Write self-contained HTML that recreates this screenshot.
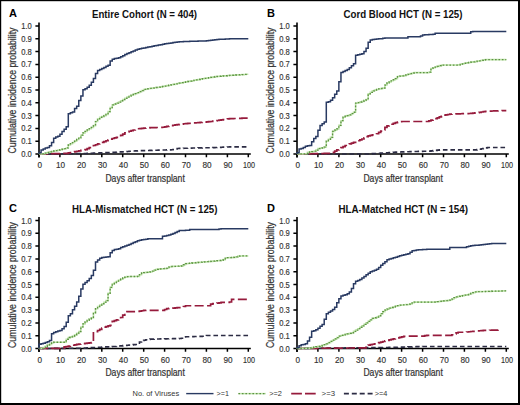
<!DOCTYPE html>
<html><head><meta charset="utf-8"><style>
html,body{margin:0;padding:0;background:#fff;}
svg{display:block;}
text{font-family:"Liberation Sans",sans-serif;}
.t{stroke:#333;stroke-width:0.15px;}
.lab{stroke:#333;stroke-width:0.22px;}
</style></head><body>
<svg width="520" height="405" viewBox="0 0 520 405">
<rect x="0" y="0" width="520" height="405" fill="#fff"/>

<path d="M0.5 0.5H519V404H0.5Z" fill="none" stroke="#000" stroke-width="1"/>
<rect x="518" y="0" width="2" height="405" fill="#000"/><rect x="0" y="403" width="520" height="2" fill="#000"/>
<rect x="0" y="0" width="520" height="1.2" fill="#000"/><rect x="0" y="0" width="1.2" height="405" fill="#000"/>
<g><text x="9.0" y="17.0" font-size="11" font-weight="bold" fill="#000">A</text>
<text x="92.0" y="17.8" font-size="10.8" font-weight="bold" fill="#111" textLength="105.0" lengthAdjust="spacingAndGlyphs">Entire Cohort (N = 404)</text>
<text class="lab" x="0" y="0" font-size="10" fill="#333" text-anchor="middle" textLength="126" lengthAdjust="spacingAndGlyphs" transform="translate(15.9 90.5) rotate(-90)">Cumulative incidence probability</text>
<path d="M39.0 22.5 V157.5 M39.0 154.0 H250.8" stroke="#000" stroke-width="1.6" fill="none"/>
<text class="t" x="31.8" y="157.0" font-size="8.4" fill="#333" text-anchor="end" textLength="10.6" lengthAdjust="spacingAndGlyphs">0.0</text>
<text class="t" x="31.8" y="144.2" font-size="8.4" fill="#333" text-anchor="end" textLength="10.6" lengthAdjust="spacingAndGlyphs">0.1</text>
<text class="t" x="31.8" y="131.4" font-size="8.4" fill="#333" text-anchor="end" textLength="10.6" lengthAdjust="spacingAndGlyphs">0.2</text>
<text class="t" x="31.8" y="118.6" font-size="8.4" fill="#333" text-anchor="end" textLength="10.6" lengthAdjust="spacingAndGlyphs">0.3</text>
<text class="t" x="31.8" y="105.8" font-size="8.4" fill="#333" text-anchor="end" textLength="10.6" lengthAdjust="spacingAndGlyphs">0.4</text>
<text class="t" x="31.8" y="93.0" font-size="8.4" fill="#333" text-anchor="end" textLength="10.6" lengthAdjust="spacingAndGlyphs">0.5</text>
<text class="t" x="31.8" y="80.2" font-size="8.4" fill="#333" text-anchor="end" textLength="10.6" lengthAdjust="spacingAndGlyphs">0.6</text>
<text class="t" x="31.8" y="67.4" font-size="8.4" fill="#333" text-anchor="end" textLength="10.6" lengthAdjust="spacingAndGlyphs">0.7</text>
<text class="t" x="31.8" y="54.6" font-size="8.4" fill="#333" text-anchor="end" textLength="10.6" lengthAdjust="spacingAndGlyphs">0.8</text>
<text class="t" x="31.8" y="41.8" font-size="8.4" fill="#333" text-anchor="end" textLength="10.6" lengthAdjust="spacingAndGlyphs">0.9</text>
<text class="t" x="31.8" y="29.0" font-size="8.4" fill="#333" text-anchor="end" textLength="10.6" lengthAdjust="spacingAndGlyphs">1.0</text>
<text class="t" x="39.7" y="168.1" font-size="8.2" fill="#333" text-anchor="middle">0</text>
<text class="t" x="60.6" y="168.1" font-size="8.2" fill="#333" text-anchor="middle">10</text>
<text class="t" x="81.6" y="168.1" font-size="8.2" fill="#333" text-anchor="middle">20</text>
<text class="t" x="102.5" y="168.1" font-size="8.2" fill="#333" text-anchor="middle">30</text>
<text class="t" x="123.4" y="168.1" font-size="8.2" fill="#333" text-anchor="middle">40</text>
<text class="t" x="144.3" y="168.1" font-size="8.2" fill="#333" text-anchor="middle">50</text>
<text class="t" x="165.3" y="168.1" font-size="8.2" fill="#333" text-anchor="middle">60</text>
<text class="t" x="186.2" y="168.1" font-size="8.2" fill="#333" text-anchor="middle">70</text>
<text class="t" x="207.1" y="168.1" font-size="8.2" fill="#333" text-anchor="middle">80</text>
<text class="t" x="228.1" y="168.1" font-size="8.2" fill="#333" text-anchor="middle">90</text>
<text class="t" x="249.0" y="168.1" font-size="8.2" fill="#333" text-anchor="middle" textLength="12.0" lengthAdjust="spacingAndGlyphs">100</text>
<path d="M35.4 154.0H39.0 M35.4 141.2H39.0 M35.4 128.4H39.0 M35.4 115.6H39.0 M35.4 102.8H39.0 M35.4 90.0H39.0 M35.4 77.2H39.0 M35.4 64.4H39.0 M35.4 51.6H39.0 M35.4 38.8H39.0 M35.4 26.0H39.0 M39.0 154.0V157.3 M59.9 154.0V157.3 M80.9 154.0V157.3 M101.8 154.0V157.3 M122.7 154.0V157.3 M143.7 154.0V157.3 M164.6 154.0V157.3 M185.5 154.0V157.3 M206.4 154.0V157.3 M227.4 154.0V157.3 M248.3 154.0V157.3" stroke="#000" stroke-width="1.5" fill="none"/>
<text class="lab" x="105.4" y="181.5" font-size="10" fill="#333" textLength="79.4" lengthAdjust="spacingAndGlyphs">Days after transplant</text>
<path d="M39.00 154.00 V153.99 H41.09 V153.97 H43.19 V153.95 H45.28 V153.94 H47.37 V153.92 H49.47 V153.90 H51.56 V153.88 H53.65 V153.86 H55.74 V153.84 H57.84 V153.83 H59.93 V153.81 H62.02 V153.79 H64.12 V153.77 H66.21 V153.75 H68.30 V153.73 H70.39 V153.72 H72.49 V153.70 H74.58 V153.68 H76.67 V153.66 H78.77 V153.64 H80.86 V153.63 H82.95 V153.57 H85.05 V153.49 H87.14 V153.41 H89.23 V153.33 H91.33 V153.25 H93.42 V153.16 H95.51 V153.08 H97.60 V153.00 H99.70 V152.92 H101.79 V152.83 H103.88 V152.75 H105.98 V152.67 H108.07 V152.59 H110.16 V152.51 H112.25 V152.40 H114.35 V152.26 H116.44 V152.13 H118.53 V151.99 H120.63 V151.86 H122.72 V151.73 H124.81 V151.59 H126.91 V151.46 H129.00 V151.32 H131.09 V151.19 H133.19 V151.05 H135.28 V150.92 H137.37 V150.79 H139.46 V150.73 H141.56 V150.67 H143.65 V150.61 H145.74 V150.55 H147.84 V150.48 H149.93 V150.42 H152.02 V150.36 H154.12 V150.30 H156.21 V150.24 H158.30 V150.17 H160.39 V150.11 H162.49 V150.05 H164.58 V149.99 H166.67 V149.92 H168.77 V149.86 H170.86 V149.80 H172.95 V149.43 H175.04 V148.85 H177.14 V148.47 H179.23 V148.41 H181.32 V148.36 H183.42 V148.30 H185.51 V148.24 H187.60 V148.18 H189.70 V148.12 H191.79 V148.07 H193.88 V148.01 H195.97 V147.96 H198.07 V147.91 H200.16 V147.86 H202.25 V147.82 H204.35 V147.77 H206.44 V147.72 H208.53 V147.68 H210.63 V147.63 H212.72 V147.58 H214.81 V147.54 H216.91 V147.49 H219.00 V147.40 H221.09 V147.29 H223.18 V147.17 H225.28 V147.05 H227.37 V146.94 H229.46 V146.83 H231.56 H233.65 H235.74 H237.84 H239.93 H242.02 H244.11 H246.21 H248.30" stroke="#2c2c44" stroke-width="1.6" fill="none" stroke-dasharray="4.6 2.9"/>
<path d="M39.00 154.00 V153.98 H41.09 V153.93 H43.19 V153.88 H45.28 V153.83 H47.37 V153.79 H49.47 V153.74 H51.56 V153.69 H53.65 V153.64 H55.74 V153.59 H57.84 V153.55 H59.93 V153.50 H62.02 V153.45 H64.12 V153.40 H66.21 V153.32 H68.30 V152.91 H70.39 V152.50 H72.49 V152.09 H74.58 V151.69 H76.67 V151.27 H78.77 V150.86 H80.86 V150.44 H82.95 V150.02 H85.05 V149.60 H87.14 V148.67 H89.23 V147.60 H91.33 V146.53 H93.42 V145.52 H95.51 V144.75 H97.60 V143.97 H99.70 V143.19 H101.79 V142.39 H103.88 V141.57 H105.98 V140.75 H108.07 V139.93 H110.16 V139.11 H112.25 V138.51 H114.35 V137.94 H116.44 V137.37 H118.53 V136.59 H120.63 V135.31 H122.72 V134.03 H124.81 V132.75 H126.91 V131.86 H129.00 V131.23 H131.09 V130.61 H133.19 V129.98 H135.28 V129.35 H137.37 V128.77 H139.46 V128.58 H141.56 V128.39 H143.65 V128.21 H145.74 V128.02 H147.84 V127.83 H149.93 V127.71 H152.02 V127.64 H154.12 V127.56 H156.21 V127.48 H158.30 V127.40 H160.39 V127.33 H162.49 V127.25 H164.58 V126.84 H166.67 V126.43 H168.77 V126.03 H170.86 V125.62 H172.95 V125.27 H175.04 V124.97 H177.14 V124.67 H179.23 V124.37 H181.32 V124.06 H183.42 V123.77 H185.51 V123.60 H187.60 V123.43 H189.70 V123.25 H191.79 V123.08 H193.88 V122.90 H195.97 V122.73 H198.07 V122.55 H200.16 V122.38 H202.25 V122.20 H204.35 V122.03 H206.44 V121.85 H208.53 V121.68 H210.63 V121.51 H212.72 V121.17 H214.81 V120.82 H216.91 V120.48 H219.00 V120.15 H221.09 V119.85 H223.18 V119.55 H225.28 V119.25 H227.37 V118.94 H229.46 V118.66 H231.56 V118.59 H233.65 V118.52 H235.74 V118.44 H237.84 V118.37 H239.93 V118.29 H242.02 V118.22 H244.11 V118.14 H246.21 V118.07 H248.30" stroke="#961b3c" stroke-width="1.7" fill="none" stroke-dasharray="9 3.4"/>
<path d="M39.00 154.00 V153.95 H41.09 V153.85 H43.19 V153.74 H45.28 V153.10 H47.37 V152.46 H49.47 V151.87 H51.56 V151.44 H53.65 V151.01 H55.74 V150.59 H57.84 V150.16 H59.93 V149.68 H62.02 V149.19 H64.12 V148.69 H66.21 V147.94 H68.30 V144.91 H70.39 V143.73 H72.49 V142.55 H74.58 V141.17 H76.67 V139.50 H78.77 V137.75 H80.86 V135.22 H82.95 V132.91 H85.05 V131.46 H87.14 V130.02 H89.23 V128.68 H91.33 V127.46 H93.42 V125.66 H95.51 V121.54 H97.60 V118.91 H99.70 V117.35 H101.79 V116.50 H103.88 V115.64 H105.98 V114.41 H108.07 V111.67 H110.16 V107.58 H112.25 V104.90 H114.35 V103.98 H116.44 V103.06 H118.53 V102.04 H120.63 V100.79 H122.72 V99.54 H124.81 V98.28 H126.91 V97.03 H129.00 V96.07 H131.09 V95.24 H133.19 V94.40 H135.28 V93.57 H137.37 V92.71 H139.46 V91.62 H141.56 V90.54 H143.65 V89.45 H145.74 V88.99 H147.84 V88.69 H149.93 V88.39 H152.02 V88.09 H154.12 V87.80 H156.21 V87.50 H158.30 V87.20 H160.39 V86.89 H162.49 V86.47 H164.58 V86.05 H166.67 V85.63 H168.77 V85.21 H170.86 V84.79 H172.95 V84.37 H175.04 V83.95 H177.14 V83.53 H179.23 V83.12 H181.32 V82.70 H183.42 V82.28 H185.51 V81.88 H187.60 V81.48 H189.70 V81.08 H191.79 V80.68 H193.88 V80.28 H195.97 V79.88 H198.07 V79.48 H200.16 V79.08 H202.25 V78.70 H204.35 V78.36 H206.44 V78.02 H208.53 V77.68 H210.63 V77.34 H212.72 V77.00 H214.81 V76.66 H216.91 V76.44 H219.00 V76.26 H221.09 V76.09 H223.18 V75.91 H225.28 V75.74 H227.37 V75.57 H229.46 V75.39 H231.56 V75.26 H233.65 V75.13 H235.74 V74.99 H237.84 V74.86 H239.93 V74.72 H242.02 V74.59 H244.11 V74.46 H246.21 V74.32 H248.30" stroke="#bfe3ab" stroke-width="1.6" fill="none"/>
<path d="M39.00 154.00 V153.95 H41.09 V153.85 H43.19 V153.74 H45.28 V153.10 H47.37 V152.46 H49.47 V151.87 H51.56 V151.44 H53.65 V151.01 H55.74 V150.59 H57.84 V150.16 H59.93 V149.68 H62.02 V149.19 H64.12 V148.69 H66.21 V147.94 H68.30 V144.91 H70.39 V143.73 H72.49 V142.55 H74.58 V141.17 H76.67 V139.50 H78.77 V137.75 H80.86 V135.22 H82.95 V132.91 H85.05 V131.46 H87.14 V130.02 H89.23 V128.68 H91.33 V127.46 H93.42 V125.66 H95.51 V121.54 H97.60 V118.91 H99.70 V117.35 H101.79 V116.50 H103.88 V115.64 H105.98 V114.41 H108.07 V111.67 H110.16 V107.58 H112.25 V104.90 H114.35 V103.98 H116.44 V103.06 H118.53 V102.04 H120.63 V100.79 H122.72 V99.54 H124.81 V98.28 H126.91 V97.03 H129.00 V96.07 H131.09 V95.24 H133.19 V94.40 H135.28 V93.57 H137.37 V92.71 H139.46 V91.62 H141.56 V90.54 H143.65 V89.45 H145.74 V88.99 H147.84 V88.69 H149.93 V88.39 H152.02 V88.09 H154.12 V87.80 H156.21 V87.50 H158.30 V87.20 H160.39 V86.89 H162.49 V86.47 H164.58 V86.05 H166.67 V85.63 H168.77 V85.21 H170.86 V84.79 H172.95 V84.37 H175.04 V83.95 H177.14 V83.53 H179.23 V83.12 H181.32 V82.70 H183.42 V82.28 H185.51 V81.88 H187.60 V81.48 H189.70 V81.08 H191.79 V80.68 H193.88 V80.28 H195.97 V79.88 H198.07 V79.48 H200.16 V79.08 H202.25 V78.70 H204.35 V78.36 H206.44 V78.02 H208.53 V77.68 H210.63 V77.34 H212.72 V77.00 H214.81 V76.66 H216.91 V76.44 H219.00 V76.26 H221.09 V76.09 H223.18 V75.91 H225.28 V75.74 H227.37 V75.57 H229.46 V75.39 H231.56 V75.26 H233.65 V75.13 H235.74 V74.99 H237.84 V74.86 H239.93 V74.72 H242.02 V74.59 H244.11 V74.46 H246.21 V74.32 H248.30" stroke="#5c9242" stroke-width="1.3" fill="none" stroke-dasharray="1.6 1.8"/>
<path d="M39.00 154.00 V152.72 H41.09 V150.04 H43.19 V148.91 H45.28 V148.00 H47.37 V147.40 H49.47 V145.81 H51.56 V142.39 H53.65 V138.14 H55.74 V136.96 H57.84 V136.16 H59.93 V134.16 H62.02 V131.60 H64.12 V129.31 H66.21 V126.77 H68.30 V113.70 H70.39 V112.86 H72.49 V112.09 H74.58 V108.38 H76.67 V106.13 H78.77 V100.44 H80.86 V96.08 H82.95 V89.77 H85.05 V88.63 H87.14 V87.16 H89.23 V85.16 H91.33 V82.34 H93.42 V78.55 H95.51 V73.53 H97.60 V70.62 H99.70 V69.52 H101.79 V68.42 H103.88 V67.38 H105.98 V66.37 H108.07 V65.37 H110.16 V60.96 H112.25 V59.20 H114.35 V58.42 H116.44 V58.25 H118.53 V57.81 H120.63 V56.73 H122.72 V55.66 H124.81 V54.59 H126.91 V53.62 H129.00 V52.71 H131.09 V51.80 H133.19 V50.89 H135.28 V49.98 H137.37 V49.13 H139.46 V48.72 H141.56 V48.31 H143.65 V47.91 H145.74 V47.50 H147.84 V47.09 H149.93 V46.68 H152.02 V46.28 H154.12 V45.87 H156.21 V45.46 H158.30 V45.05 H160.39 V44.65 H162.49 V44.24 H164.58 V43.83 H166.67 V43.51 H168.77 V43.19 H170.86 V42.88 H172.95 V42.56 H175.04 V42.25 H177.14 V41.93 H179.23 V41.80 H181.32 V41.71 H183.42 V41.62 H185.51 V41.53 H187.60 V41.44 H189.70 V41.35 H191.79 V41.26 H193.88 V41.19 H195.97 V41.13 H198.07 V41.07 H200.16 V41.02 H202.25 V40.96 H204.35 V40.90 H206.44 V40.82 H208.53 V40.57 H210.63 V40.31 H212.72 V40.05 H214.81 V39.80 H216.91 V39.54 H219.00 V39.37 H221.09 V39.25 H223.18 V39.14 H225.28 V39.02 H227.37 V38.90 H229.46 V38.80 H231.56 H233.65 H235.74 H237.84 H239.93 H242.02 H244.11 H246.21 H248.30" stroke="#293a62" stroke-width="1.5" fill="none" stroke-linejoin="miter"/></g>
<g><text x="267.0" y="17.0" font-size="11" font-weight="bold" fill="#000">B</text>
<text x="343.5" y="17.8" font-size="10.8" font-weight="bold" fill="#111" textLength="119.0" lengthAdjust="spacingAndGlyphs">Cord Blood HCT (N = 125)</text>
<text class="lab" x="0" y="0" font-size="10" fill="#333" text-anchor="middle" textLength="126" lengthAdjust="spacingAndGlyphs" transform="translate(273.9 90.5) rotate(-90)">Cumulative incidence probability</text>
<path d="M297.0 22.5 V157.5 M297.0 154.0 H508.8" stroke="#000" stroke-width="1.6" fill="none"/>
<text class="t" x="289.8" y="157.0" font-size="8.4" fill="#333" text-anchor="end" textLength="10.6" lengthAdjust="spacingAndGlyphs">0.0</text>
<text class="t" x="289.8" y="144.2" font-size="8.4" fill="#333" text-anchor="end" textLength="10.6" lengthAdjust="spacingAndGlyphs">0.1</text>
<text class="t" x="289.8" y="131.4" font-size="8.4" fill="#333" text-anchor="end" textLength="10.6" lengthAdjust="spacingAndGlyphs">0.2</text>
<text class="t" x="289.8" y="118.6" font-size="8.4" fill="#333" text-anchor="end" textLength="10.6" lengthAdjust="spacingAndGlyphs">0.3</text>
<text class="t" x="289.8" y="105.8" font-size="8.4" fill="#333" text-anchor="end" textLength="10.6" lengthAdjust="spacingAndGlyphs">0.4</text>
<text class="t" x="289.8" y="93.0" font-size="8.4" fill="#333" text-anchor="end" textLength="10.6" lengthAdjust="spacingAndGlyphs">0.5</text>
<text class="t" x="289.8" y="80.2" font-size="8.4" fill="#333" text-anchor="end" textLength="10.6" lengthAdjust="spacingAndGlyphs">0.6</text>
<text class="t" x="289.8" y="67.4" font-size="8.4" fill="#333" text-anchor="end" textLength="10.6" lengthAdjust="spacingAndGlyphs">0.7</text>
<text class="t" x="289.8" y="54.6" font-size="8.4" fill="#333" text-anchor="end" textLength="10.6" lengthAdjust="spacingAndGlyphs">0.8</text>
<text class="t" x="289.8" y="41.8" font-size="8.4" fill="#333" text-anchor="end" textLength="10.6" lengthAdjust="spacingAndGlyphs">0.9</text>
<text class="t" x="289.8" y="29.0" font-size="8.4" fill="#333" text-anchor="end" textLength="10.6" lengthAdjust="spacingAndGlyphs">1.0</text>
<text class="t" x="297.7" y="168.1" font-size="8.2" fill="#333" text-anchor="middle">0</text>
<text class="t" x="318.6" y="168.1" font-size="8.2" fill="#333" text-anchor="middle">10</text>
<text class="t" x="339.6" y="168.1" font-size="8.2" fill="#333" text-anchor="middle">20</text>
<text class="t" x="360.5" y="168.1" font-size="8.2" fill="#333" text-anchor="middle">30</text>
<text class="t" x="381.4" y="168.1" font-size="8.2" fill="#333" text-anchor="middle">40</text>
<text class="t" x="402.3" y="168.1" font-size="8.2" fill="#333" text-anchor="middle">50</text>
<text class="t" x="423.3" y="168.1" font-size="8.2" fill="#333" text-anchor="middle">60</text>
<text class="t" x="444.2" y="168.1" font-size="8.2" fill="#333" text-anchor="middle">70</text>
<text class="t" x="465.1" y="168.1" font-size="8.2" fill="#333" text-anchor="middle">80</text>
<text class="t" x="486.1" y="168.1" font-size="8.2" fill="#333" text-anchor="middle">90</text>
<text class="t" x="507.0" y="168.1" font-size="8.2" fill="#333" text-anchor="middle" textLength="12.0" lengthAdjust="spacingAndGlyphs">100</text>
<path d="M293.4 154.0H297.0 M293.4 141.2H297.0 M293.4 128.4H297.0 M293.4 115.6H297.0 M293.4 102.8H297.0 M293.4 90.0H297.0 M293.4 77.2H297.0 M293.4 64.4H297.0 M293.4 51.6H297.0 M293.4 38.8H297.0 M293.4 26.0H297.0 M297.0 154.0V157.3 M317.9 154.0V157.3 M338.9 154.0V157.3 M359.8 154.0V157.3 M380.7 154.0V157.3 M401.6 154.0V157.3 M422.6 154.0V157.3 M443.5 154.0V157.3 M464.4 154.0V157.3 M485.4 154.0V157.3 M506.3 154.0V157.3" stroke="#000" stroke-width="1.5" fill="none"/>
<text class="lab" x="363.4" y="181.5" font-size="10" fill="#333" textLength="79.4" lengthAdjust="spacingAndGlyphs">Days after transplant</text>
<path d="M297.00 154.00 V154.00 H299.09 H301.19 H303.28 H305.37 H307.46 H309.56 H311.65 H313.74 H315.84 H317.93 H320.02 H322.12 H324.21 H326.30 H328.39 H330.49 H332.58 H334.67 H336.77 H338.86 H340.95 H343.05 H345.14 H347.23 H349.32 H351.42 H353.51 H355.60 H357.70 H359.79 H361.88 H363.98 H366.07 H368.16 H370.25 H372.35 V153.67 H374.44 V153.54 H376.53 V153.40 H378.63 V153.26 H380.72 V153.12 H382.81 V152.98 H384.91 V152.84 H387.00 V152.70 H389.09 V152.57 H391.19 V152.43 H393.28 V152.29 H395.37 V152.15 H397.46 V152.05 H399.56 V151.98 H401.65 V151.92 H403.74 V151.85 H405.84 V151.79 H407.93 V151.73 H410.02 V151.66 H412.12 V151.60 H414.21 V151.53 H416.30 V151.47 H418.39 V151.40 H420.49 V151.34 H422.58 V151.27 H424.67 V151.21 H426.77 V151.15 H428.86 V151.08 H430.95 V150.90 H433.04 V150.63 H435.14 V150.36 H437.23 V150.09 H439.32 V149.90 H441.42 H443.51 H445.60 H447.70 H449.79 H451.88 H453.98 H456.07 H458.16 H460.25 H462.35 H464.44 H466.53 H468.63 H470.72 H472.81 H474.90 H477.00 V149.64 H479.09 V149.20 H481.18 V148.75 H483.28 V148.31 H485.37 V147.87 H487.46 V147.47 H489.56 H491.65 H493.74 H495.84 H497.93 H500.02 H502.11 H504.21 H506.30" stroke="#2c2c44" stroke-width="1.6" fill="none" stroke-dasharray="4.6 2.9"/>
<path d="M297.00 154.00 V153.98 H299.09 V153.94 H301.19 V153.90 H303.28 V153.86 H305.37 V153.82 H307.46 V153.78 H309.56 V153.74 H311.65 V153.70 H313.74 V153.66 H315.84 V153.62 H317.93 V153.59 H320.02 V153.55 H322.12 V153.51 H324.21 V153.47 H326.30 V153.43 H328.39 V153.39 H330.49 V153.21 H332.58 V152.45 H334.67 V151.12 H336.77 V149.79 H338.86 V148.68 H340.95 V147.63 H343.05 V146.57 H345.14 V145.52 H347.23 V144.56 H349.32 V143.82 H351.42 V143.08 H353.51 V142.34 H355.60 V141.60 H357.70 V140.75 H359.79 V139.87 H361.88 V138.99 H363.98 V137.87 H366.07 V136.59 H368.16 V135.80 H370.25 V135.34 H372.35 V134.87 H374.44 V134.40 H376.53 V133.75 H378.63 V132.33 H380.72 V131.03 H382.81 V130.00 H384.91 V127.29 H387.00 V125.90 H389.09 V125.06 H391.19 V124.23 H393.28 V123.39 H395.37 V122.59 H397.46 V122.06 H399.56 V121.54 H401.65 V121.49 H403.74 H405.84 H407.93 H410.02 H412.12 H414.21 H416.30 H418.39 H420.49 H422.58 H424.67 H426.77 H428.86 V120.94 H430.95 V120.15 H433.04 V119.37 H435.14 V118.58 H437.23 V117.78 H439.32 V116.92 H441.42 V116.07 H443.51 V115.22 H445.60 V114.87 H447.70 V114.52 H449.79 V114.17 H451.88 V114.02 H453.98 V113.95 H456.07 V113.89 H458.16 V113.82 H460.25 V113.76 H462.35 V113.70 H464.44 V113.63 H466.53 V113.57 H468.63 V113.50 H470.72 V113.44 H472.81 V113.19 H474.90 V112.90 H477.00 V112.61 H479.09 V112.32 H481.18 V112.02 H483.28 V111.71 H485.37 V111.40 H487.46 V111.11 H489.56 V111.05 H491.65 V110.99 H493.74 V110.94 H495.84 V110.88 H497.93 V110.82 H500.02 V110.76 H502.11 V110.70 H504.21 V110.64 H506.30" stroke="#961b3c" stroke-width="1.7" fill="none" stroke-dasharray="9 3.4"/>
<path d="M297.00 154.00 V153.97 H299.09 V153.91 H301.19 V153.86 H303.28 V153.80 H305.37 V153.74 H307.46 V152.33 H309.56 V151.95 H311.65 V151.58 H313.74 V151.21 H315.84 V150.12 H317.93 V148.55 H320.02 V148.09 H322.12 V147.90 H324.21 V147.05 H326.30 V141.20 H328.39 V139.28 H330.49 V137.36 H332.58 V131.34 H334.67 V130.12 H336.77 V128.89 H338.86 V125.33 H340.95 V120.70 H343.05 V117.23 H345.14 V116.26 H347.23 V115.58 H349.32 V114.83 H351.42 V113.55 H353.51 V112.27 H355.60 V103.20 H357.70 V102.60 H359.79 V102.00 H361.88 V101.34 H363.98 V100.45 H366.07 V99.56 H368.16 V93.84 H370.25 V92.29 H372.35 V90.83 H374.44 V90.14 H376.53 V89.46 H378.63 V88.86 H380.72 V88.48 H382.81 V88.10 H384.91 V85.05 H387.00 V82.87 H389.09 V81.83 H391.19 V80.78 H393.28 V79.74 H395.37 V78.60 H397.46 V76.56 H399.56 V76.20 H401.65 V75.84 H403.74 V75.48 H405.84 V74.91 H407.93 V74.28 H410.02 V73.66 H412.12 V73.03 H414.21 V72.59 H416.30 H418.39 H420.49 H422.58 H424.67 H426.77 H428.86 V72.18 H430.95 V68.43 H433.04 V67.74 H435.14 V67.04 H437.23 V66.35 H439.32 V65.66 H441.42 V65.04 H443.51 H445.60 H447.70 H449.79 H451.88 H453.98 H456.07 H458.16 V64.83 H460.25 V64.31 H462.35 V63.78 H464.44 V63.26 H466.53 V62.74 H468.63 V62.45 H470.72 V62.15 H472.81 V61.86 H474.90 V61.57 H477.00 V61.21 H479.09 V60.80 H481.18 V60.40 H483.28 V59.99 H485.37 V59.66 H487.46 H489.56 H491.65 H493.74 H495.84 H497.93 H500.02 H502.11 H504.21 H506.30" stroke="#bfe3ab" stroke-width="1.6" fill="none"/>
<path d="M297.00 154.00 V153.97 H299.09 V153.91 H301.19 V153.86 H303.28 V153.80 H305.37 V153.74 H307.46 V152.33 H309.56 V151.95 H311.65 V151.58 H313.74 V151.21 H315.84 V150.12 H317.93 V148.55 H320.02 V148.09 H322.12 V147.90 H324.21 V147.05 H326.30 V141.20 H328.39 V139.28 H330.49 V137.36 H332.58 V131.34 H334.67 V130.12 H336.77 V128.89 H338.86 V125.33 H340.95 V120.70 H343.05 V117.23 H345.14 V116.26 H347.23 V115.58 H349.32 V114.83 H351.42 V113.55 H353.51 V112.27 H355.60 V103.20 H357.70 V102.60 H359.79 V102.00 H361.88 V101.34 H363.98 V100.45 H366.07 V99.56 H368.16 V93.84 H370.25 V92.29 H372.35 V90.83 H374.44 V90.14 H376.53 V89.46 H378.63 V88.86 H380.72 V88.48 H382.81 V88.10 H384.91 V85.05 H387.00 V82.87 H389.09 V81.83 H391.19 V80.78 H393.28 V79.74 H395.37 V78.60 H397.46 V76.56 H399.56 V76.20 H401.65 V75.84 H403.74 V75.48 H405.84 V74.91 H407.93 V74.28 H410.02 V73.66 H412.12 V73.03 H414.21 V72.59 H416.30 H418.39 H420.49 H422.58 H424.67 H426.77 H428.86 V72.18 H430.95 V68.43 H433.04 V67.74 H435.14 V67.04 H437.23 V66.35 H439.32 V65.66 H441.42 V65.04 H443.51 H445.60 H447.70 H449.79 H451.88 H453.98 H456.07 H458.16 V64.83 H460.25 V64.31 H462.35 V63.78 H464.44 V63.26 H466.53 V62.74 H468.63 V62.45 H470.72 V62.15 H472.81 V61.86 H474.90 V61.57 H477.00 V61.21 H479.09 V60.80 H481.18 V60.40 H483.28 V59.99 H485.37 V59.66 H487.46 H489.56 H491.65 H493.74 H495.84 H497.93 H500.02 H502.11 H504.21 H506.30" stroke="#5c9242" stroke-width="1.3" fill="none" stroke-dasharray="1.6 1.8"/>
<path d="M297.00 154.00 V152.67 H299.09 V148.91 H301.19 V148.39 H303.28 V147.40 H305.37 V146.28 H307.46 V145.87 H309.56 V145.46 H311.65 V141.74 H313.74 V138.52 H315.84 V136.45 H317.93 V130.32 H320.02 V125.42 H322.12 V123.79 H324.21 V121.92 H326.30 V102.15 H328.39 V101.63 H330.49 V100.35 H332.58 V97.82 H334.67 V94.34 H336.77 V90.97 H338.86 V81.81 H340.95 V72.55 H343.05 V71.55 H345.14 V70.52 H347.23 V69.44 H349.32 V67.80 H351.42 V65.77 H353.51 V63.67 H355.60 V55.34 H357.70 V54.77 H359.79 V54.26 H361.88 V53.79 H363.98 V51.46 H366.07 V48.22 H368.16 V42.13 H370.25 V39.98 H372.35 V39.51 H374.44 V39.14 H376.53 V39.00 H378.63 V38.87 H380.72 V38.73 H382.81 V38.21 H384.91 V37.90 H387.00 H389.09 H391.19 H393.28 H395.37 H397.46 H399.56 H401.65 H403.74 H405.84 H407.93 V36.75 H410.02 H412.12 H414.21 H416.30 H418.39 H420.49 V36.12 H422.58 V35.07 H424.67 V34.84 H426.77 V34.72 H428.86 V34.59 H430.95 V34.46 H433.04 V34.33 H435.14 V33.28 H437.23 V33.17 H439.32 H441.42 H443.51 H445.60 H447.70 H449.79 H451.88 H453.98 H456.07 H458.16 H460.25 H462.35 H464.44 H466.53 H468.63 H470.72 V31.81 H472.81 V31.50 H474.90 H477.00 H479.09 H481.18 H483.28 H485.37 H487.46 H489.56 H491.65 H493.74 H495.84 H497.93 H500.02 H502.11 H504.21 H506.30" stroke="#293a62" stroke-width="1.5" fill="none" stroke-linejoin="miter"/></g>
<g><text x="9.0" y="212.0" font-size="11" font-weight="bold" fill="#000">C</text>
<text x="72.0" y="212.8" font-size="10.8" font-weight="bold" fill="#111" textLength="145.5" lengthAdjust="spacingAndGlyphs">HLA-Mismatched HCT (N = 125)</text>
<text class="lab" x="0" y="0" font-size="10" fill="#333" text-anchor="middle" textLength="126" lengthAdjust="spacingAndGlyphs" transform="translate(15.9 285.0) rotate(-90)">Cumulative incidence probability</text>
<path d="M39.0 217.0 V352.0 M39.0 348.5 H250.8" stroke="#000" stroke-width="1.6" fill="none"/>
<text class="t" x="31.8" y="351.5" font-size="8.4" fill="#333" text-anchor="end" textLength="10.6" lengthAdjust="spacingAndGlyphs">0.0</text>
<text class="t" x="31.8" y="338.7" font-size="8.4" fill="#333" text-anchor="end" textLength="10.6" lengthAdjust="spacingAndGlyphs">0.1</text>
<text class="t" x="31.8" y="325.9" font-size="8.4" fill="#333" text-anchor="end" textLength="10.6" lengthAdjust="spacingAndGlyphs">0.2</text>
<text class="t" x="31.8" y="313.1" font-size="8.4" fill="#333" text-anchor="end" textLength="10.6" lengthAdjust="spacingAndGlyphs">0.3</text>
<text class="t" x="31.8" y="300.3" font-size="8.4" fill="#333" text-anchor="end" textLength="10.6" lengthAdjust="spacingAndGlyphs">0.4</text>
<text class="t" x="31.8" y="287.5" font-size="8.4" fill="#333" text-anchor="end" textLength="10.6" lengthAdjust="spacingAndGlyphs">0.5</text>
<text class="t" x="31.8" y="274.7" font-size="8.4" fill="#333" text-anchor="end" textLength="10.6" lengthAdjust="spacingAndGlyphs">0.6</text>
<text class="t" x="31.8" y="261.9" font-size="8.4" fill="#333" text-anchor="end" textLength="10.6" lengthAdjust="spacingAndGlyphs">0.7</text>
<text class="t" x="31.8" y="249.1" font-size="8.4" fill="#333" text-anchor="end" textLength="10.6" lengthAdjust="spacingAndGlyphs">0.8</text>
<text class="t" x="31.8" y="236.3" font-size="8.4" fill="#333" text-anchor="end" textLength="10.6" lengthAdjust="spacingAndGlyphs">0.9</text>
<text class="t" x="31.8" y="223.5" font-size="8.4" fill="#333" text-anchor="end" textLength="10.6" lengthAdjust="spacingAndGlyphs">1.0</text>
<text class="t" x="39.7" y="362.6" font-size="8.2" fill="#333" text-anchor="middle">0</text>
<text class="t" x="60.6" y="362.6" font-size="8.2" fill="#333" text-anchor="middle">10</text>
<text class="t" x="81.6" y="362.6" font-size="8.2" fill="#333" text-anchor="middle">20</text>
<text class="t" x="102.5" y="362.6" font-size="8.2" fill="#333" text-anchor="middle">30</text>
<text class="t" x="123.4" y="362.6" font-size="8.2" fill="#333" text-anchor="middle">40</text>
<text class="t" x="144.3" y="362.6" font-size="8.2" fill="#333" text-anchor="middle">50</text>
<text class="t" x="165.3" y="362.6" font-size="8.2" fill="#333" text-anchor="middle">60</text>
<text class="t" x="186.2" y="362.6" font-size="8.2" fill="#333" text-anchor="middle">70</text>
<text class="t" x="207.1" y="362.6" font-size="8.2" fill="#333" text-anchor="middle">80</text>
<text class="t" x="228.1" y="362.6" font-size="8.2" fill="#333" text-anchor="middle">90</text>
<text class="t" x="249.0" y="362.6" font-size="8.2" fill="#333" text-anchor="middle" textLength="12.0" lengthAdjust="spacingAndGlyphs">100</text>
<path d="M35.4 348.5H39.0 M35.4 335.7H39.0 M35.4 322.9H39.0 M35.4 310.1H39.0 M35.4 297.3H39.0 M35.4 284.5H39.0 M35.4 271.7H39.0 M35.4 258.9H39.0 M35.4 246.1H39.0 M35.4 233.3H39.0 M35.4 220.5H39.0 M39.0 348.5V351.8 M59.9 348.5V351.8 M80.9 348.5V351.8 M101.8 348.5V351.8 M122.7 348.5V351.8 M143.7 348.5V351.8 M164.6 348.5V351.8 M185.5 348.5V351.8 M206.4 348.5V351.8 M227.4 348.5V351.8 M248.3 348.5V351.8" stroke="#000" stroke-width="1.5" fill="none"/>
<text class="lab" x="105.4" y="376.0" font-size="10" fill="#333" textLength="79.4" lengthAdjust="spacingAndGlyphs">Days after transplant</text>
<path d="M39.00 348.50 V348.49 H41.09 V348.48 H43.19 V348.47 H45.28 V348.46 H47.37 V348.44 H49.47 V348.43 H51.56 V348.42 H53.65 V348.40 H55.74 V348.39 H57.84 V348.38 H59.93 V348.37 H62.02 V348.35 H64.12 V348.34 H66.21 V348.33 H68.30 V348.31 H70.39 V348.30 H72.49 V348.29 H74.58 V348.28 H76.67 V348.26 H78.77 V348.25 H80.86 V348.19 H82.95 V348.08 H85.05 V347.97 H87.14 V347.86 H89.23 V347.75 H91.33 V347.64 H93.42 V347.53 H95.51 V347.42 H97.60 V347.32 H99.70 V347.21 H101.79 V347.10 H103.88 V346.99 H105.98 V346.88 H108.07 V346.77 H110.16 V346.66 H112.25 V346.55 H114.35 V346.43 H116.44 V346.24 H118.53 V346.04 H120.63 V345.85 H122.72 V345.65 H124.81 V345.46 H126.91 V345.26 H129.00 V345.06 H131.09 V344.86 H133.19 V344.66 H135.28 V344.46 H137.37 V344.07 H139.46 V342.04 H141.56 V340.64 H143.65 V340.21 H145.74 V339.77 H147.84 V339.33 H149.93 V339.13 H152.02 V339.09 H154.12 V339.05 H156.21 V339.01 H158.30 V338.96 H160.39 V338.92 H162.49 V338.88 H164.58 V338.84 H166.67 V338.80 H168.77 V338.76 H170.86 V338.72 H172.95 V338.67 H175.04 V338.63 H177.14 V338.59 H179.23 V338.55 H181.32 V338.21 H183.42 V336.85 H185.51 V336.78 H187.60 V336.72 H189.70 V336.65 H191.79 V336.59 H193.88 V336.52 H195.97 V336.46 H198.07 V336.39 H200.16 V336.33 H202.25 V336.26 H204.35 V336.07 H206.44 V335.44 H208.53 H210.63 H212.72 H214.81 H216.91 H219.00 H221.09 H223.18 H225.28 H227.37 H229.46 H231.56 H233.65 H235.74 H237.84 H239.93 H242.02 H244.11 H246.21 H248.30" stroke="#2c2c44" stroke-width="1.6" fill="none" stroke-dasharray="4.6 2.9"/>
<path d="M39.00 348.50 V348.49 H41.09 V348.47 H43.19 V348.44 H45.28 V348.42 H47.37 V348.40 H49.47 V348.38 H51.56 V348.36 H53.65 V348.33 H55.74 V348.31 H57.84 V348.29 H59.93 V348.27 H62.02 V348.24 H64.12 V346.96 H66.21 V346.53 H68.30 V346.10 H70.39 V345.66 H72.49 V345.23 H74.58 V344.79 H76.67 V344.43 H78.77 V344.18 H80.86 V343.93 H82.95 V343.68 H85.05 V343.43 H87.14 V343.19 H89.23 V342.94 H91.33 V342.69 H93.42 V332.78 H95.51 V331.65 H97.60 V330.50 H99.70 V329.34 H101.79 V328.18 H103.88 V327.14 H105.98 V326.55 H108.07 V325.97 H110.16 V325.39 H112.25 V321.36 H114.35 V320.65 H116.44 V319.94 H118.53 V319.00 H120.63 V317.52 H122.72 V315.13 H124.81 V311.76 H126.91 V311.72 H129.00 V311.67 H131.09 V311.63 H133.19 V311.59 H135.28 V311.55 H137.37 V311.47 H139.46 V311.12 H141.56 V310.77 H143.65 V310.43 H145.74 V310.36 H147.84 H149.93 H152.02 H154.12 H156.21 H158.30 H160.39 H162.49 H164.58 V309.51 H166.67 V308.67 H168.77 V308.37 H170.86 V308.20 H172.95 V308.04 H175.04 V307.87 H177.14 V307.71 H179.23 V307.54 H181.32 V307.26 H183.42 V306.50 H185.51 V305.75 H187.60 H189.70 H191.79 H193.88 H195.97 H198.07 H200.16 H202.25 H204.35 H206.44 H208.53 H210.63 V304.12 H212.72 V303.68 H214.81 V303.38 H216.91 V303.08 H219.00 V302.78 H221.09 V302.47 H223.18 V302.29 H225.28 H227.37 H229.46 V302.02 H231.56 V299.35 H233.65 H235.74 H237.84 H239.93 H242.02 H244.11 H246.21 H248.30" stroke="#961b3c" stroke-width="1.7" fill="none" stroke-dasharray="9 3.4"/>
<path d="M39.00 348.50 V348.44 H41.09 V348.31 H43.19 V347.57 H45.28 V346.23 H47.37 V345.17 H49.47 V344.40 H51.56 V343.02 H53.65 V342.23 H55.74 H57.84 H59.93 H62.02 H64.12 H66.21 V339.24 H68.30 V337.50 H70.39 V336.92 H72.49 V336.40 H74.58 V334.88 H76.67 V333.36 H78.77 V331.51 H80.86 V326.95 H82.95 V323.89 H85.05 V321.95 H87.14 V320.28 H89.23 V318.95 H91.33 V317.95 H93.42 V312.81 H95.51 V308.74 H97.60 V306.48 H99.70 V305.11 H101.79 V303.74 H103.88 V302.21 H105.98 V300.57 H108.07 V293.25 H110.16 V287.33 H112.25 V283.86 H114.35 V282.53 H116.44 V281.21 H118.53 V279.97 H120.63 V278.97 H122.72 V277.96 H124.81 V277.19 H126.91 V276.66 H129.00 V276.50 H131.09 H133.19 H135.28 H137.37 V276.33 H139.46 V274.68 H141.56 V273.02 H143.65 V272.62 H145.74 V272.35 H147.84 V272.09 H149.93 V271.83 H152.02 V271.18 H154.12 V270.13 H156.21 V269.33 H158.30 V269.12 H160.39 V268.91 H162.49 V268.70 H164.58 V268.50 H166.67 V268.29 H168.77 V267.03 H170.86 V266.51 H172.95 V266.40 H175.04 V266.30 H177.14 V266.19 H179.23 V266.09 H181.32 V265.98 H183.42 V264.75 H185.51 V263.66 H187.60 V263.44 H189.70 V263.23 H191.79 V263.02 H193.88 V262.80 H195.97 V262.59 H198.07 V262.40 H200.16 V262.22 H202.25 V262.05 H204.35 V261.87 H206.44 V261.70 H208.53 V261.52 H210.63 V261.35 H212.72 V261.14 H214.81 V260.93 H216.91 V260.72 H219.00 V260.52 H221.09 V260.31 H223.18 V259.61 H225.28 V258.18 H227.37 V257.68 H229.46 V257.58 H231.56 V257.48 H233.65 V257.37 H235.74 V256.79 H237.84 V256.15 H239.93 V255.96 H242.02 H244.11 H246.21 H248.30" stroke="#bfe3ab" stroke-width="1.6" fill="none"/>
<path d="M39.00 348.50 V348.44 H41.09 V348.31 H43.19 V347.57 H45.28 V346.23 H47.37 V345.17 H49.47 V344.40 H51.56 V343.02 H53.65 V342.23 H55.74 H57.84 H59.93 H62.02 H64.12 H66.21 V339.24 H68.30 V337.50 H70.39 V336.92 H72.49 V336.40 H74.58 V334.88 H76.67 V333.36 H78.77 V331.51 H80.86 V326.95 H82.95 V323.89 H85.05 V321.95 H87.14 V320.28 H89.23 V318.95 H91.33 V317.95 H93.42 V312.81 H95.51 V308.74 H97.60 V306.48 H99.70 V305.11 H101.79 V303.74 H103.88 V302.21 H105.98 V300.57 H108.07 V293.25 H110.16 V287.33 H112.25 V283.86 H114.35 V282.53 H116.44 V281.21 H118.53 V279.97 H120.63 V278.97 H122.72 V277.96 H124.81 V277.19 H126.91 V276.66 H129.00 V276.50 H131.09 H133.19 H135.28 H137.37 V276.33 H139.46 V274.68 H141.56 V273.02 H143.65 V272.62 H145.74 V272.35 H147.84 V272.09 H149.93 V271.83 H152.02 V271.18 H154.12 V270.13 H156.21 V269.33 H158.30 V269.12 H160.39 V268.91 H162.49 V268.70 H164.58 V268.50 H166.67 V268.29 H168.77 V267.03 H170.86 V266.51 H172.95 V266.40 H175.04 V266.30 H177.14 V266.19 H179.23 V266.09 H181.32 V265.98 H183.42 V264.75 H185.51 V263.66 H187.60 V263.44 H189.70 V263.23 H191.79 V263.02 H193.88 V262.80 H195.97 V262.59 H198.07 V262.40 H200.16 V262.22 H202.25 V262.05 H204.35 V261.87 H206.44 V261.70 H208.53 V261.52 H210.63 V261.35 H212.72 V261.14 H214.81 V260.93 H216.91 V260.72 H219.00 V260.52 H221.09 V260.31 H223.18 V259.61 H225.28 V258.18 H227.37 V257.68 H229.46 V257.58 H231.56 V257.48 H233.65 V257.37 H235.74 V256.79 H237.84 V256.15 H239.93 V255.96 H242.02 H244.11 H246.21 H248.30" stroke="#5c9242" stroke-width="1.3" fill="none" stroke-dasharray="1.6 1.8"/>
<path d="M39.00 348.50 V344.31 H41.09 V343.75 H43.19 V343.18 H45.28 V342.61 H47.37 V341.83 H49.47 V340.55 H51.56 V333.73 H53.65 V332.60 H55.74 V331.71 H57.84 V331.01 H59.93 V330.44 H62.02 V328.65 H64.12 V326.55 H66.21 V322.20 H68.30 V315.63 H70.39 V313.83 H72.49 V309.73 H74.58 V306.34 H76.67 V301.93 H78.77 V296.15 H80.86 V289.12 H82.95 V284.34 H85.05 V282.51 H87.14 V280.68 H89.23 V278.44 H91.33 V275.52 H93.42 V270.16 H95.51 V262.10 H97.60 V259.97 H99.70 V258.26 H101.79 V257.51 H103.88 V257.30 H105.98 V257.09 H108.07 V256.87 H110.16 V252.68 H112.25 V250.40 H114.35 V249.62 H116.44 V249.22 H118.53 V248.82 H120.63 V247.56 H122.72 V246.72 H124.81 V245.99 H126.91 V245.26 H129.00 V244.45 H131.09 V243.53 H133.19 V242.61 H135.28 V241.68 H137.37 V240.81 H139.46 V240.34 H141.56 V239.87 H143.65 V239.51 H145.74 V239.16 H147.84 V238.82 H149.93 V238.68 H152.02 H154.12 H156.21 H158.30 H160.39 H162.49 V236.37 H164.58 V235.91 H166.67 V235.44 H168.77 V234.98 H170.86 V234.31 H172.95 V233.55 H175.04 V232.59 H177.14 V231.43 H179.23 V230.59 H181.32 V230.50 H183.42 V230.41 H185.51 V230.32 H187.60 V230.24 H189.70 V229.60 H191.79 V229.46 H193.88 H195.97 H198.07 H200.16 H202.25 H204.35 H206.44 H208.53 H210.63 H212.72 H214.81 H216.91 H219.00 V229.11 H221.09 V228.82 H223.18 H225.28 H227.37 H229.46 H231.56 H233.65 H235.74 H237.84 H239.93 H242.02 H244.11 H246.21 H248.30" stroke="#293a62" stroke-width="1.5" fill="none" stroke-linejoin="miter"/></g>
<g><text x="267.0" y="212.0" font-size="11" font-weight="bold" fill="#000">D</text>
<text x="338.4" y="212.8" font-size="10.8" font-weight="bold" fill="#111" textLength="129.6" lengthAdjust="spacingAndGlyphs">HLA-Matched HCT (N = 154)</text>
<text class="lab" x="0" y="0" font-size="10" fill="#333" text-anchor="middle" textLength="126" lengthAdjust="spacingAndGlyphs" transform="translate(273.9 285.0) rotate(-90)">Cumulative incidence probability</text>
<path d="M297.0 217.0 V352.0 M297.0 348.5 H508.8" stroke="#000" stroke-width="1.6" fill="none"/>
<text class="t" x="289.8" y="351.5" font-size="8.4" fill="#333" text-anchor="end" textLength="10.6" lengthAdjust="spacingAndGlyphs">0.0</text>
<text class="t" x="289.8" y="338.7" font-size="8.4" fill="#333" text-anchor="end" textLength="10.6" lengthAdjust="spacingAndGlyphs">0.1</text>
<text class="t" x="289.8" y="325.9" font-size="8.4" fill="#333" text-anchor="end" textLength="10.6" lengthAdjust="spacingAndGlyphs">0.2</text>
<text class="t" x="289.8" y="313.1" font-size="8.4" fill="#333" text-anchor="end" textLength="10.6" lengthAdjust="spacingAndGlyphs">0.3</text>
<text class="t" x="289.8" y="300.3" font-size="8.4" fill="#333" text-anchor="end" textLength="10.6" lengthAdjust="spacingAndGlyphs">0.4</text>
<text class="t" x="289.8" y="287.5" font-size="8.4" fill="#333" text-anchor="end" textLength="10.6" lengthAdjust="spacingAndGlyphs">0.5</text>
<text class="t" x="289.8" y="274.7" font-size="8.4" fill="#333" text-anchor="end" textLength="10.6" lengthAdjust="spacingAndGlyphs">0.6</text>
<text class="t" x="289.8" y="261.9" font-size="8.4" fill="#333" text-anchor="end" textLength="10.6" lengthAdjust="spacingAndGlyphs">0.7</text>
<text class="t" x="289.8" y="249.1" font-size="8.4" fill="#333" text-anchor="end" textLength="10.6" lengthAdjust="spacingAndGlyphs">0.8</text>
<text class="t" x="289.8" y="236.3" font-size="8.4" fill="#333" text-anchor="end" textLength="10.6" lengthAdjust="spacingAndGlyphs">0.9</text>
<text class="t" x="289.8" y="223.5" font-size="8.4" fill="#333" text-anchor="end" textLength="10.6" lengthAdjust="spacingAndGlyphs">1.0</text>
<text class="t" x="297.7" y="362.6" font-size="8.2" fill="#333" text-anchor="middle">0</text>
<text class="t" x="318.6" y="362.6" font-size="8.2" fill="#333" text-anchor="middle">10</text>
<text class="t" x="339.6" y="362.6" font-size="8.2" fill="#333" text-anchor="middle">20</text>
<text class="t" x="360.5" y="362.6" font-size="8.2" fill="#333" text-anchor="middle">30</text>
<text class="t" x="381.4" y="362.6" font-size="8.2" fill="#333" text-anchor="middle">40</text>
<text class="t" x="402.3" y="362.6" font-size="8.2" fill="#333" text-anchor="middle">50</text>
<text class="t" x="423.3" y="362.6" font-size="8.2" fill="#333" text-anchor="middle">60</text>
<text class="t" x="444.2" y="362.6" font-size="8.2" fill="#333" text-anchor="middle">70</text>
<text class="t" x="465.1" y="362.6" font-size="8.2" fill="#333" text-anchor="middle">80</text>
<text class="t" x="486.1" y="362.6" font-size="8.2" fill="#333" text-anchor="middle">90</text>
<text class="t" x="507.0" y="362.6" font-size="8.2" fill="#333" text-anchor="middle" textLength="12.0" lengthAdjust="spacingAndGlyphs">100</text>
<path d="M293.4 348.5H297.0 M293.4 335.7H297.0 M293.4 322.9H297.0 M293.4 310.1H297.0 M293.4 297.3H297.0 M293.4 284.5H297.0 M293.4 271.7H297.0 M293.4 258.9H297.0 M293.4 246.1H297.0 M293.4 233.3H297.0 M293.4 220.5H297.0 M297.0 348.5V351.8 M317.9 348.5V351.8 M338.9 348.5V351.8 M359.8 348.5V351.8 M380.7 348.5V351.8 M401.6 348.5V351.8 M422.6 348.5V351.8 M443.5 348.5V351.8 M464.4 348.5V351.8 M485.4 348.5V351.8 M506.3 348.5V351.8" stroke="#000" stroke-width="1.5" fill="none"/>
<text class="lab" x="363.4" y="376.0" font-size="10" fill="#333" textLength="79.4" lengthAdjust="spacingAndGlyphs">Days after transplant</text>
<path d="M297.00 348.50 V348.49 H299.09 V348.46 H301.19 V348.44 H303.28 V348.41 H305.37 V348.38 H307.46 V348.36 H309.56 V348.33 H311.65 V348.31 H313.74 V348.28 H315.84 V348.26 H317.93 V348.23 H320.02 V348.21 H322.12 V348.18 H324.21 V348.15 H326.30 V348.13 H328.39 V348.10 H330.49 V348.08 H332.58 V348.05 H334.67 V348.03 H336.77 V348.00 H338.86 V347.98 H340.95 V347.95 H343.05 V347.93 H345.14 V347.91 H347.23 V347.88 H349.32 V347.86 H351.42 V347.84 H353.51 V347.81 H355.60 V347.79 H357.70 V347.77 H359.79 V347.74 H361.88 V347.72 H363.98 V347.70 H366.07 V347.67 H368.16 V347.65 H370.25 V347.63 H372.35 V347.60 H374.44 V347.58 H376.53 V347.56 H378.63 V347.53 H380.72 V347.51 H382.81 V347.49 H384.91 V347.46 H387.00 V347.44 H389.09 V347.42 H391.19 V347.39 H393.28 V347.37 H395.37 V347.34 H397.46 V347.27 H399.56 V347.20 H401.65 V347.13 H403.74 V347.06 H405.84 V346.99 H407.93 V346.91 H410.02 V346.84 H412.12 V346.77 H414.21 V346.70 H416.30 V346.63 H418.39 V346.56 H420.49 V346.49 H422.58 V346.45 H424.67 H426.77 H428.86 H430.95 H433.04 H435.14 H437.23 H439.32 H441.42 H443.51 H445.60 H447.70 H449.79 H451.88 H453.98 H456.07 H458.16 H460.25 H462.35 H464.44 H466.53 H468.63 H470.72 H472.81 H474.90 H477.00 H479.09 H481.18 H483.28 H485.37 H487.46 H489.56 H491.65 H493.74 H495.84 H497.93 H500.02 H502.11 H504.21 H506.30" stroke="#2c2c44" stroke-width="1.6" fill="none" stroke-dasharray="4.6 2.9"/>
<path d="M297.00 348.50 V348.49 H299.09 V348.47 H301.19 V348.45 H303.28 V348.43 H305.37 V348.41 H307.46 V348.39 H309.56 V348.37 H311.65 V348.35 H313.74 V348.33 H315.84 V348.31 H317.93 V348.29 H320.02 V348.27 H322.12 V348.26 H324.21 V348.24 H326.30 V348.22 H328.39 V348.20 H330.49 V348.18 H332.58 V348.16 H334.67 V348.14 H336.77 V348.12 H338.86 V348.10 H340.95 V348.08 H343.05 V348.06 H345.14 V348.04 H347.23 V348.02 H349.32 V348.00 H351.42 V347.98 H353.51 V347.96 H355.60 V347.94 H357.70 V347.92 H359.79 V347.90 H361.88 V347.88 H363.98 V347.86 H366.07 V345.81 H368.16 V345.16 H370.25 V344.71 H372.35 V344.26 H374.44 V343.82 H376.53 V343.32 H378.63 V342.71 H380.72 V342.10 H382.81 V341.49 H384.91 V340.88 H387.00 V340.36 H389.09 V339.89 H391.19 V339.41 H393.28 V338.94 H395.37 V338.46 H397.46 V337.94 H399.56 V337.42 H401.65 V336.87 H403.74 V336.32 H405.84 V336.21 H407.93 H410.02 H412.12 H414.21 H416.30 H418.39 H420.49 H422.58 H424.67 V335.58 H426.77 V335.44 H428.86 H430.95 H433.04 H435.14 H437.23 H439.32 H441.42 H443.51 H445.60 H447.70 H449.79 H451.88 V334.77 H453.98 V333.80 H456.07 V332.83 H458.16 V332.24 H460.25 H462.35 H464.44 V332.22 H466.53 V331.99 H468.63 V331.76 H470.72 V331.52 H472.81 V331.29 H474.90 V331.10 H477.00 V330.92 H479.09 V330.75 H481.18 V330.57 H483.28 V330.43 H485.37 V330.37 H487.46 V330.31 H489.56 V330.25 H491.65 V330.18 H493.74 V330.12 H495.84 V330.06 H497.93 V330.00 H500.02" stroke="#961b3c" stroke-width="1.7" fill="none" stroke-dasharray="9 3.4"/>
<path d="M297.00 348.50 V348.48 H299.09 V348.44 H301.19 V348.39 H303.28 V348.35 H305.37 V348.31 H307.46 V348.27 H309.56 V348.02 H311.65 V347.56 H313.74 V347.10 H315.84 V346.74 H317.93 V346.42 H320.02 V346.10 H322.12 V345.52 H324.21 V344.69 H326.30 V343.78 H328.39 V342.59 H330.49 V341.41 H332.58 V340.18 H334.67 V338.90 H336.77 V337.60 H338.86 V336.12 H340.95 V335.43 H343.05 V334.92 H345.14 V334.42 H347.23 V333.92 H349.32 V333.41 H351.42 V332.74 H353.51 V331.39 H355.60 V330.04 H357.70 V328.69 H359.79 V327.26 H361.88 V325.78 H363.98 V324.30 H366.07 V322.83 H368.16 V321.36 H370.25 V319.80 H372.35 V318.41 H374.44 V317.73 H376.53 V317.04 H378.63 V315.79 H380.72 V313.68 H382.81 V311.58 H384.91 V310.14 H387.00 V309.15 H389.09 V308.15 H391.19 V307.48 H393.28 V306.84 H395.37 V306.21 H397.46 V305.68 H399.56 V305.16 H401.65 V304.95 H403.74 V304.78 H405.84 V304.60 H407.93 V304.43 H410.02 V303.83 H412.12 V302.81 H414.21 V302.10 H416.30 H418.39 H420.49 H422.58 H424.67 H426.77 H428.86 H430.95 H433.04 H435.14 V301.96 H437.23 V301.69 H439.32 V301.42 H441.42 V301.15 H443.51 V300.88 H445.60 V300.61 H447.70 V300.34 H449.79 V300.07 H451.88 V299.05 H453.98 V297.71 H456.07 V296.83 H458.16 V296.42 H460.25 V296.00 H462.35 V295.58 H464.44 V295.16 H466.53 V294.74 H468.63 V294.04 H470.72 V293.34 H472.81 V292.65 H474.90 V291.95 H477.00 V291.64 H479.09 V291.59 H481.18 V291.53 H483.28 V291.48 H485.37 V291.43 H487.46 V291.38 H489.56 V291.33 H491.65 V291.27 H493.74 V291.22 H495.84 V291.17 H497.93 V291.09 H500.02 V291.00 H502.11 V290.91 H504.21 V290.82 H506.30" stroke="#bfe3ab" stroke-width="1.6" fill="none"/>
<path d="M297.00 348.50 V348.48 H299.09 V348.44 H301.19 V348.39 H303.28 V348.35 H305.37 V348.31 H307.46 V348.27 H309.56 V348.02 H311.65 V347.56 H313.74 V347.10 H315.84 V346.74 H317.93 V346.42 H320.02 V346.10 H322.12 V345.52 H324.21 V344.69 H326.30 V343.78 H328.39 V342.59 H330.49 V341.41 H332.58 V340.18 H334.67 V338.90 H336.77 V337.60 H338.86 V336.12 H340.95 V335.43 H343.05 V334.92 H345.14 V334.42 H347.23 V333.92 H349.32 V333.41 H351.42 V332.74 H353.51 V331.39 H355.60 V330.04 H357.70 V328.69 H359.79 V327.26 H361.88 V325.78 H363.98 V324.30 H366.07 V322.83 H368.16 V321.36 H370.25 V319.80 H372.35 V318.41 H374.44 V317.73 H376.53 V317.04 H378.63 V315.79 H380.72 V313.68 H382.81 V311.58 H384.91 V310.14 H387.00 V309.15 H389.09 V308.15 H391.19 V307.48 H393.28 V306.84 H395.37 V306.21 H397.46 V305.68 H399.56 V305.16 H401.65 V304.95 H403.74 V304.78 H405.84 V304.60 H407.93 V304.43 H410.02 V303.83 H412.12 V302.81 H414.21 V302.10 H416.30 H418.39 H420.49 H422.58 H424.67 H426.77 H428.86 H430.95 H433.04 H435.14 V301.96 H437.23 V301.69 H439.32 V301.42 H441.42 V301.15 H443.51 V300.88 H445.60 V300.61 H447.70 V300.34 H449.79 V300.07 H451.88 V299.05 H453.98 V297.71 H456.07 V296.83 H458.16 V296.42 H460.25 V296.00 H462.35 V295.58 H464.44 V295.16 H466.53 V294.74 H468.63 V294.04 H470.72 V293.34 H472.81 V292.65 H474.90 V291.95 H477.00 V291.64 H479.09 V291.59 H481.18 V291.53 H483.28 V291.48 H485.37 V291.43 H487.46 V291.38 H489.56 V291.33 H491.65 V291.27 H493.74 V291.22 H495.84 V291.17 H497.93 V291.09 H500.02 V291.00 H502.11 V290.91 H504.21 V290.82 H506.30" stroke="#5c9242" stroke-width="1.3" fill="none" stroke-dasharray="1.6 1.8"/>
<path d="M297.00 348.50 V347.50 H299.09 V345.72 H301.19 V344.80 H303.28 V344.39 H305.37 V343.76 H307.46 V340.98 H309.56 V337.24 H311.65 V331.18 H313.74 V330.75 H315.84 V329.69 H317.93 V328.13 H320.02 V326.35 H322.12 V324.53 H324.21 V319.32 H326.30 V313.66 H328.39 V312.27 H330.49 V310.88 H332.58 V309.59 H334.67 V307.31 H336.77 V302.76 H338.86 V298.85 H340.95 V296.05 H343.05 V295.15 H345.14 V294.71 H347.23 V293.75 H349.32 V292.00 H351.42 V288.58 H353.51 V283.73 H355.60 V281.17 H357.70 V280.47 H359.79 V279.45 H361.88 V278.04 H363.98 V276.48 H366.07 V274.87 H368.16 V273.20 H370.25 V271.64 H372.35 V271.07 H374.44 V270.37 H376.53 V269.36 H378.63 V267.50 H380.72 V265.17 H382.81 V263.62 H384.91 V261.64 H387.00 V259.83 H389.09 V259.09 H391.19 V258.41 H393.28 V257.83 H395.37 V257.23 H397.46 V256.53 H399.56 V255.83 H401.65 V255.13 H403.74 V254.68 H405.84 V254.25 H407.93 V253.82 H410.02 V252.24 H412.12 V250.71 H414.21 V250.40 H416.30 V250.09 H418.39 V249.80 H420.49 V249.68 H422.58 V249.57 H424.67 V249.45 H426.77 V249.33 H428.86 V249.30 H430.95 H433.04 H435.14 H437.23 H439.32 H441.42 H443.51 H445.60 H447.70 H449.79 V247.51 H451.88 H453.98 H456.07 H458.16 H460.25 H462.35 H464.44 V247.45 H466.53 V246.87 H468.63 V246.29 H470.72 V245.70 H472.81 V245.46 H474.90 V245.29 H477.00 V245.13 H479.09 V244.97 H481.18 V244.81 H483.28 V244.61 H485.37 V244.35 H487.46 V244.09 H489.56 V243.83 H491.65 V243.57 H493.74 V243.54 H495.84 H497.93 H500.02 H502.11 H504.21 H506.30" stroke="#293a62" stroke-width="1.5" fill="none" stroke-linejoin="miter"/></g>
<text x="132.5" y="396.3" font-size="7.6" fill="#333" textLength="46.7" lengthAdjust="spacingAndGlyphs">No. of Viruses</text>
<path d="M186.2 393.6H213.5" stroke="#293a62" stroke-width="1.4"/>
<text x="216.6" y="396.3" font-size="7.6" fill="#333" textLength="12.3" lengthAdjust="spacingAndGlyphs">&gt;=1</text>
<path d="M238.4 393.6H265.8" stroke="#bfe3ab" stroke-width="1.5"/>
<path d="M238.4 393.6H265.8" stroke="#5c9242" stroke-width="1.2" stroke-dasharray="1.6 1.9"/>
<text x="269.2" y="396.3" font-size="7.6" fill="#333" textLength="12.7" lengthAdjust="spacingAndGlyphs">&gt;=2</text>
<path d="M291.2 393.6H316.5" stroke="#961b3c" stroke-width="1.7" stroke-dasharray="10.7 3.1"/>
<text x="321.6" y="396.3" font-size="7.6" fill="#333" textLength="13.4" lengthAdjust="spacingAndGlyphs">&gt;=3</text>
<path d="M343.9 393.6H372.7" stroke="#2c2c44" stroke-width="1.6" stroke-dasharray="5 2.9"/>
<text x="374.7" y="396.3" font-size="7.6" fill="#333" textLength="12.6" lengthAdjust="spacingAndGlyphs">&gt;=4</text>
</svg></body></html>
